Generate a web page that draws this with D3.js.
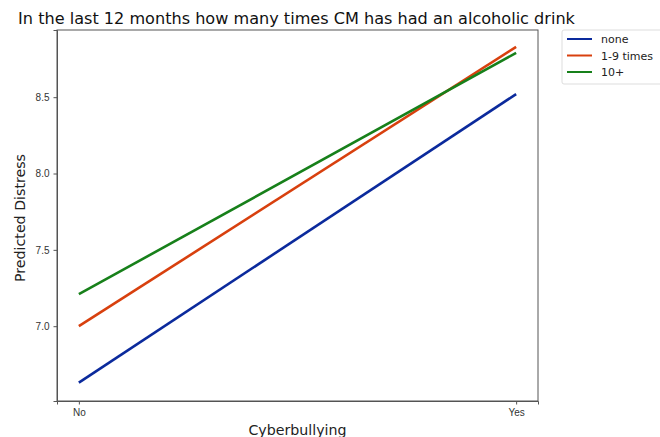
<!DOCTYPE html>
<html lang="en">
<head>
    <meta charset="utf-8">
    <title>Predicted Distress</title>
    <style type="text/css">
        body { margin: 0; background: #fff; }
        svg { font-family: "DejaVu Sans", sans-serif; }
        .axis path, .axis line { stroke: #555; }
        .axis text { fill: #333; font-size: 10px; }
    </style>
</head>
<body>
   <svg class="chart" width="660" height="437"></svg>

   <script src="https://d3js.org/d3.v7.min.js"></script>
   <script>
        // 数据
        var categories = ['No', 'Yes'];
        var groups = ['none', '1-9 times', '10+'];
        var colors = ['#0b2a9c', '#d8400e', '#17801a'];
        var noneValues = [6.63, 8.52];
        var lowValues = [7.00, 8.83];
        var highValues = [7.21, 8.79];
        var yTicks = [7.0, 7.5, 8.0, 8.5];

        var series = [noneValues, lowValues, highValues];

        var svg = d3.select('.chart'),
            padding = {top: 30, right: 122, bottom: 36, left: 57},
            w = 660 - padding.left - padding.right,
            h = 437 - padding.top - padding.bottom;

        var g = svg.append('g')
            .attr('transform', 'translate(' + padding.left + ',' + padding.top + ')');

        // 比例尺
        var x = d3.scaleLinear().domain([-0.05, 1.05]).range([0, w]);
        var y = d3.scaleLinear().domain([6.51, 8.94]).range([h, 0]);

        // 坐标轴
        g.append('g')
            .attr('class', 'axis')
            .attr('transform', 'translate(0,' + h + ')')
            .call(d3.axisBottom(x).tickValues([0, 1])
                .tickFormat(function(d) { return categories[d]; })
                .tickSizeOuter(0).tickSize(3.5).tickPadding(4));

        g.append('g')
            .attr('class', 'axis')
            .call(d3.axisLeft(y).tickValues(yTicks)
                .tickFormat(d3.format('.1f'))
                .tickSizeOuter(0).tickSize(3.5).tickPadding(4));

        // 边框
        g.append('rect')
            .attr('width', w).attr('height', h)
            .attr('fill', 'none').attr('stroke', '#555').attr('stroke-width', 1);

        // 线条
        var line = d3.line()
            .x(function(d, i) { return x(i); })
            .y(function(d) { return y(d); });

        series.forEach(function(s, i) {
            g.append('path')
                .datum(s)
                .attr('d', line)
                .attr('fill', 'none')
                .attr('stroke', colors[i])
                .attr('stroke-width', 2.6);
        });

        // 标题和轴标签
        svg.append('text')
            .attr('x', 296.5).attr('y', 23.5)
            .attr('text-anchor', 'middle')
            .attr('font-size', 16.1).attr('fill', '#111')
            .text('In the last 12 months how many times CM has had an alcoholic drink');

        svg.append('text')
            .attr('transform', 'translate(25,218) rotate(-90)')
            .attr('text-anchor', 'middle')
            .attr('font-size', 14.2).attr('fill', '#222')
            .text('Predicted Distress');

        svg.append('text')
            .attr('x', padding.left + w / 2).attr('y', 435)
            .attr('text-anchor', 'middle')
            .attr('font-size', 14.2).attr('fill', '#222')
            .text('Cyberbullying');

        // 图例
        var legend = svg.append('g').attr('transform', 'translate(562,30)');
        legend.append('rect')
            .attr('width', 110).attr('height', 54).attr('rx', 2)
            .attr('fill', '#fff').attr('stroke', '#ddd');
        groups.forEach(function(name, i) {
            var ly = 9 + i * 16.5;
            legend.append('line')
                .attr('x1', 5).attr('x2', 30).attr('y1', ly).attr('y2', ly)
                .attr('stroke', colors[i]).attr('stroke-width', 2);
            legend.append('text')
                .attr('x', 39).attr('y', ly + 4)
                .attr('font-size', 11).attr('fill', '#222')
                .text(name);
        });
   </script>
</body>
</html>
